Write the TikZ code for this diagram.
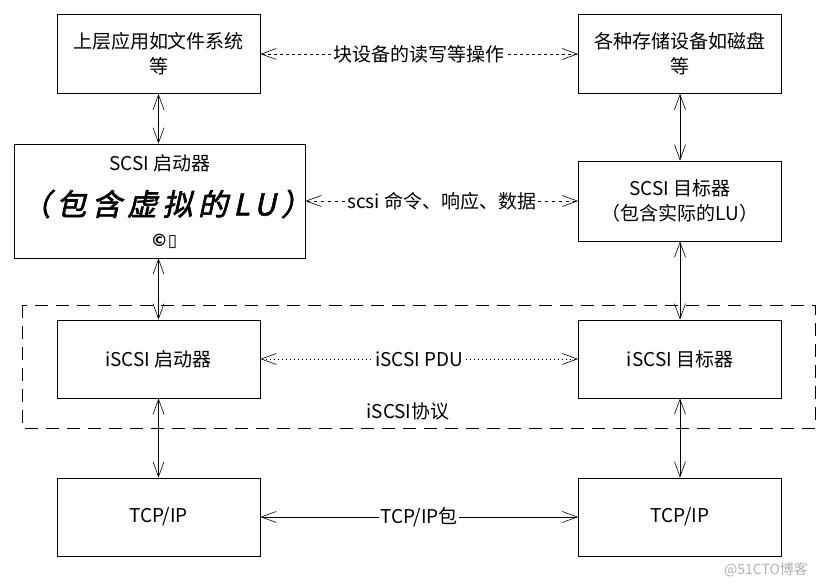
\documentclass[tikz,border=0pt]{standalone}
\usepackage{fontspec}
\setmainfont{Noto Sans CJK SC}
\newfontfamily\bigit[FakeSlant=0.22,FakeBold=2,LetterSpace=18]{Noto Sans CJK SC}
\newfontfamily\symfont{DejaVu Sans}
\usetikzlibrary{arrows.meta}
\begin{document}
\begin{tikzpicture}[x=1pt,y=-1pt,
  box/.style={draw, line width=0.8pt, minimum width=203pt, minimum height=79pt, inner sep=0pt, align=center, font=\fontsize{19}{25}\selectfont},
  link/.style={line width=0.7pt, {Straight Barb[length=15pt,width=11pt,line width=0.6pt]}-{Straight Barb[length=15pt,width=11pt,line width=0.6pt]}},
  lbl/.style={fill=white, inner sep=1.5pt, font=\fontsize{19}{22}\selectfont},
  txt/.style={inner sep=0pt, font=\fontsize{19}{22}\selectfont}]
\useasboundingbox[fill=white] (0,0) rectangle (828,588);
% dashed protocol region
\draw[line width=0.8pt, dash pattern=on 13pt off 8pt] (22,305) rectangle (815,428);
\node[txt] (proto) at (408,411) {iSCSI协议};
% boxes
\node[box] (app) at (158.5,54) {上层应用如文件系统\\等};
\node[box] (stor) at (680,54) {各种存储设备如磁盘\\等};
\node[box, minimum width=291pt, minimum height=114pt] (scsiI) at (159.5,201) {};
\node[txt] (scsiIa) at (160,163) {SCSI 启动器};
\node[txt, font=\fontsize{30}{32}\bigit] (scsiIb) at (166,204) {（包含虚拟的LU）};
\node[txt, font=\fontsize{17}{19}\symfont\bfseries] (scsiIc) at (164,241) {©▯};
\node[box, minimum height=80pt] (scsiT) at (680,201) {SCSI 目标器\\（包含实际的LU）};
\node[box, minimum height=78pt] (iscI) at (158.5,359) {iSCSI 启动器};
\node[box, minimum height=78pt] (iscT) at (680,359) {iSCSI 目标器};
\node[box, minimum height=78pt] (tcpL) at (158.5,517) {TCP/IP};
\node[box, minimum height=78pt] (tcpR) at (680,517) {TCP/IP};
% vertical links
\draw[link] (app.south) -- (scsiI.north -| app.south);
\draw[link] (stor.south) -- (scsiT.north);
\draw[link] (scsiI.south -| app.south) -- (iscI.north);
\draw[link] (scsiT.south) -- (iscT.north);
\draw[link] (iscI.south) -- (tcpL.north);
\draw[link] (iscT.south) -- (tcpR.north);
% horizontal links
\draw[link, dash pattern=on 3pt off 3pt] (app.east) -- node[lbl] (l1) {块设备的读写等操作} (stor.west);
\draw[link, dash pattern=on 3pt off 4pt] (scsiI.east) -- node[lbl] (l2) {scsi 命令、响应、数据} (scsiT.west);
\draw[link, dash pattern=on 1.5pt off 2.5pt] (iscI.east) -- node[lbl] (l3) {iSCSI PDU} (iscT.west);
\draw[link] (tcpL.east) -- node[lbl] (l4) {TCP/IP包} (tcpR.west);
% watermark
\node[txt, text=black!30, font=\fontsize{14}{16}\selectfont] (wm) at (766,570) {@51CTO博客};
\end{tikzpicture}
\end{document}
